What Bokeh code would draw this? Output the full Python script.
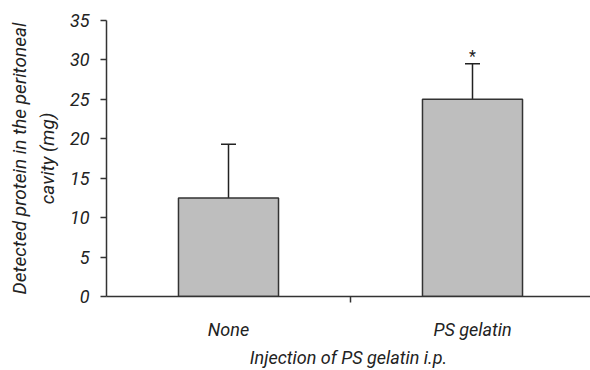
from bokeh.plotting import figure
from bokeh.models import ColumnDataSource, FixedTicker, Range1d, Whisker, TeeHead
from bokeh.embed import file_html
from bokeh.resources import INLINE
from bokeh.core.properties import value

# Data
groups = ["None", "PS gelatin"]
means = [12.5, 25.0]
errors = [6.8, 4.5]
marks = ["", "*"]
y_ticks = [0, 5, 10, 15, 20, 25, 30, 35]

FONT = "Roboto"

xs = [i + 0.5 for i in range(len(groups))]
src = ColumnDataSource(dict(
    x=xs,
    mean=means,
    upper=[m + e for m, e in zip(means, errors)],
    mark=marks,
    group=groups,
))

p = figure(
    width=590, height=370,
    x_range=Range1d(0, 484 / 244), y_range=Range1d(0, 35),
    output_backend="svg", toolbar_location=None,
    min_border_left=106, min_border_right=0,
    min_border_top=20, min_border_bottom=73,
)
p.outline_line_color = None
p.grid.visible = False
p.background_fill_color = "white"
p.border_fill_color = "white"

# Bars
p.vbar(x="x", top="mean", bottom=0, width=0.41, source=src,
       fill_color="#bebebe", line_color="#333333", line_width=1.5)

# Upper error bars
p.add_layout(Whisker(source=src, base="x", lower="mean", upper="upper",
                     line_color="#222222", line_width=1.5,
                     upper_head=TeeHead(size=15, line_color="#222222", line_width=1.5),
                     lower_head=None))

# Significance marker
p.text(x="x", y="upper", text="mark", source=src, y_offset=2,
       text_align="center", text_baseline="bottom",
       text_font=value(FONT), text_font_size="16px", text_color="#222222")

# Y axis
ya = p.yaxis[0]
ya.ticker = FixedTicker(ticks=y_ticks)
ya.axis_label = "Detected protein in the peritoneal\ncavity (mg)"
ya.axis_label_text_font = FONT
ya.axis_label_text_font_style = "italic"
ya.axis_label_text_font_size = "19px"
ya.axis_label_text_color = "#222222"
ya.axis_label_standoff = 8
ya.major_label_text_font = FONT
ya.major_label_text_font_style = "italic"
ya.major_label_text_font_size = "18px"
ya.major_label_text_color = "#222222"
ya.major_label_standoff = 11
ya.major_tick_out = 6
ya.major_tick_in = 0
ya.minor_tick_line_color = None
ya.axis_line_color = "#333333"
ya.axis_line_width = 1.5
ya.major_tick_line_color = "#333333"
ya.major_tick_line_width = 1.5

# X axis: category labels centred on bars, one tick between groups
xa = p.xaxis[0]
xa.ticker = FixedTicker(ticks=xs, minor_ticks=[1.0])
xa.major_label_overrides = {x: g for x, g in zip(xs, groups)}
xa.axis_label = "Injection of PS gelatin i.p."
xa.axis_label_text_font = FONT
xa.axis_label_text_font_style = "italic"
xa.axis_label_text_font_size = "18px"
xa.axis_label_text_color = "#222222"
xa.axis_label_standoff = 4
xa.major_label_text_font = FONT
xa.major_label_text_font_style = "italic"
xa.major_label_text_font_size = "18px"
xa.major_label_text_color = "#222222"
xa.major_label_standoff = 16
xa.major_tick_line_color = None
xa.major_tick_out = 0
xa.major_tick_in = 0
xa.minor_tick_out = 6
xa.minor_tick_in = 0
xa.minor_tick_line_color = "#333333"
xa.minor_tick_line_width = 1.5
xa.axis_line_color = "#333333"
xa.axis_line_width = 1.5

open("out.html", "w").write(file_html(p, INLINE))
